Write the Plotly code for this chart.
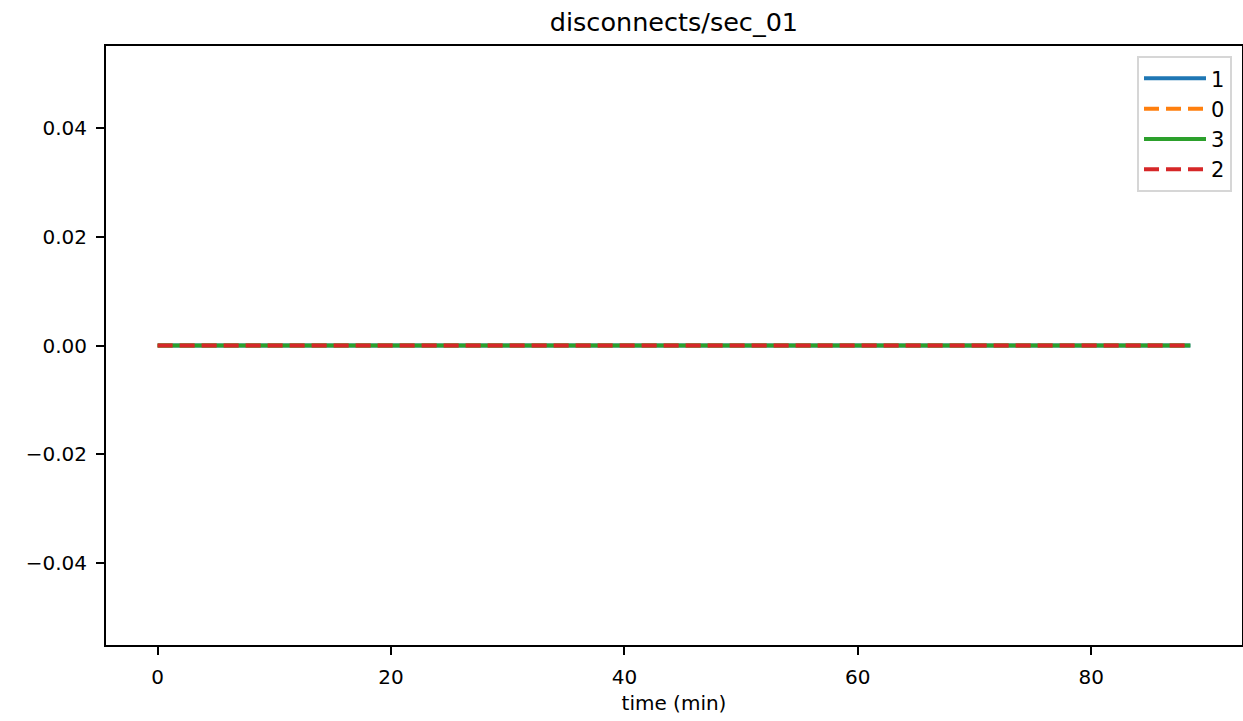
import plotly.graph_objects as go

# Data: all four series are flat at zero over ~0..88.5 min
time_min = [0.0, 88.5]
series_names = ["1", "0", "3", "2"]
series_values = {
    "1": [0.0, 0.0],
    "0": [0.0, 0.0],
    "3": [0.0, 0.0],
    "2": [0.0, 0.0],
}
series_colors = {"1": "#1f77b4", "0": "#ff7f0e", "3": "#2ca02c", "2": "#d62728"}
series_dash = {"1": "solid", "0": "15px,7px", "3": "solid", "2": "15px,7px"}

x_ticks = [0, 20, 40, 60, 80]
y_ticks = [-0.04, -0.02, 0.0, 0.02, 0.04]

fig = go.Figure()
for name in series_names:
    fig.add_trace(go.Scatter(
        x=time_min, y=series_values[name], mode="lines", name=name,
        line=dict(color=series_colors[name], width=4, dash=series_dash[name]),
    ))

font_family = "DejaVu Sans"
fig.update_layout(
    width=1243, height=721,
    paper_bgcolor="white", plot_bgcolor="white",
    margin=dict(l=106, r=1, t=46, b=76, autoexpand=False),
    font=dict(family=font_family, size=20, color="black"),
    title=dict(text="disconnects/sec_01", x=0.5422, xanchor="center", y=0.9695, yanchor="middle",
               font=dict(size=25.5, family=font_family, color="black")),
    showlegend=True,
    legend=dict(x=0.9912, y=0.983, xanchor="right", yanchor="top",
                bordercolor="#d6d6d6", borderwidth=2, bgcolor="rgba(255,255,255,0.8)",
                font=dict(size=21, family=font_family), tracegroupgap=0, itemwidth=62),
)
fig.update_xaxes(
    range=[-4.425, 92.925], tickvals=x_ticks, ticktext=[str(v) for v in x_ticks],
    showgrid=False, zeroline=False, showline=True, linecolor="black", linewidth=2, mirror=True,
    ticks="outside", ticklen=8, tickwidth=2, tickcolor="black", ticklabelstandoff=5,
    title=dict(text="time (min)", font=dict(size=20, family=font_family), standoff=8),
    automargin=False,
)
fig.update_yaxes(
    range=[-0.055, 0.055], tickvals=y_ticks, tickformat=".2f",
    showgrid=False, zeroline=False, showline=True, linecolor="black", linewidth=2, mirror=True,
    ticks="outside", ticklen=8, tickwidth=2, tickcolor="black", ticklabelstandoff=5,
    automargin=False,
)

# Remove the default 8px page margin so the figure sits at the window origin.
fig.write_html(
    "out.html",
    config={"displayModeBar": False},
    post_script="document.body.style.margin='0';document.body.style.overflow='hidden';",
)
